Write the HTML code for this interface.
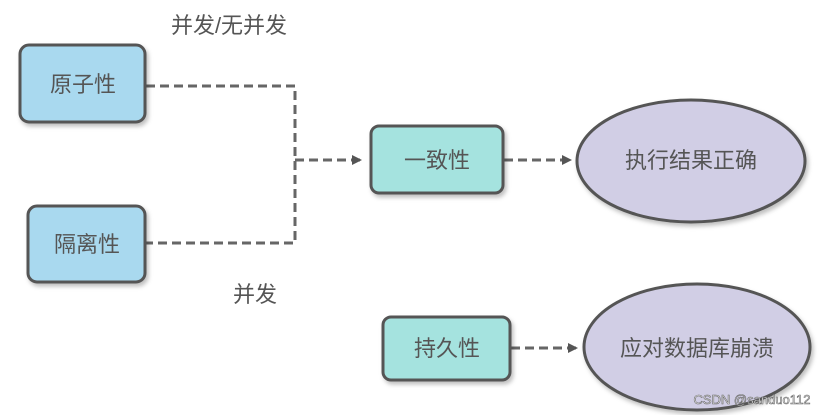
<!DOCTYPE html>
<html><head><meta charset="utf-8"><style>
body{margin:0;background:#fff;}
svg text{font-family:"Liberation Sans","Noto Sans CJK SC",sans-serif;fill:#555;}
</style></head><body>
<svg width="831" height="415" viewBox="0 0 831 415" xmlns="http://www.w3.org/2000/svg">
<defs>
<filter id="sh" x="-10%" y="-10%" width="130%" height="130%"><feDropShadow dx="2" dy="3" stdDeviation="2" flood-color="#000" flood-opacity="0.25"/></filter>
<marker id="ar" markerWidth="10" markerHeight="10" refX="8" refY="5" orient="auto" markerUnits="userSpaceOnUse"><path d="M0,0 L10,5 L0,10 z" fill="#555"/></marker>
</defs>
<g stroke="#666" stroke-width="3" stroke-dasharray="9,5" fill="none">
<path d="M146,86 L295,86 L295,243 L146,243"/>
<path d="M295,160 L360,160" marker-end="url(#ar)"/>
<path d="M504,160 L570,160" marker-end="url(#ar)"/>
<path d="M511,348 L576,348" marker-end="url(#ar)"/>
</g>
<g stroke="#555" stroke-width="3" filter="url(#sh)">
<rect x="20" y="45" width="125" height="77" rx="9" fill="#a9d9ef"/>
<rect x="28" y="206" width="117" height="76" rx="9" fill="#a9d9ef"/>
<rect x="371" y="126" width="132" height="67" rx="8" fill="#a5e3df"/>
<rect x="383" y="317" width="127" height="63" rx="8" fill="#a5e3df"/>
<ellipse cx="691" cy="161" rx="114" ry="61" fill="#d1cee5"/>
<ellipse cx="697" cy="347" rx="113" ry="63" fill="#d1cee5"/>
</g>
<g font-size="22" text-anchor="middle">
<text x="83" y="92">原子性</text>
<text x="87" y="252">隔离性</text>
<text x="437" y="168">一致性</text>
<text x="447" y="356">持久性</text>
<text x="691" y="168">执行结果正确</text>
<text x="697" y="356">应对数据库崩溃</text>
<text x="229" y="33">并发/无并发</text>
<text x="255" y="302">并发</text>
</g>
<text x="752" y="404" font-size="13" text-anchor="middle" style="fill:#fff;stroke:#666;stroke-width:0.6">CSDN @sanduo112</text>
</svg>
</body></html>
